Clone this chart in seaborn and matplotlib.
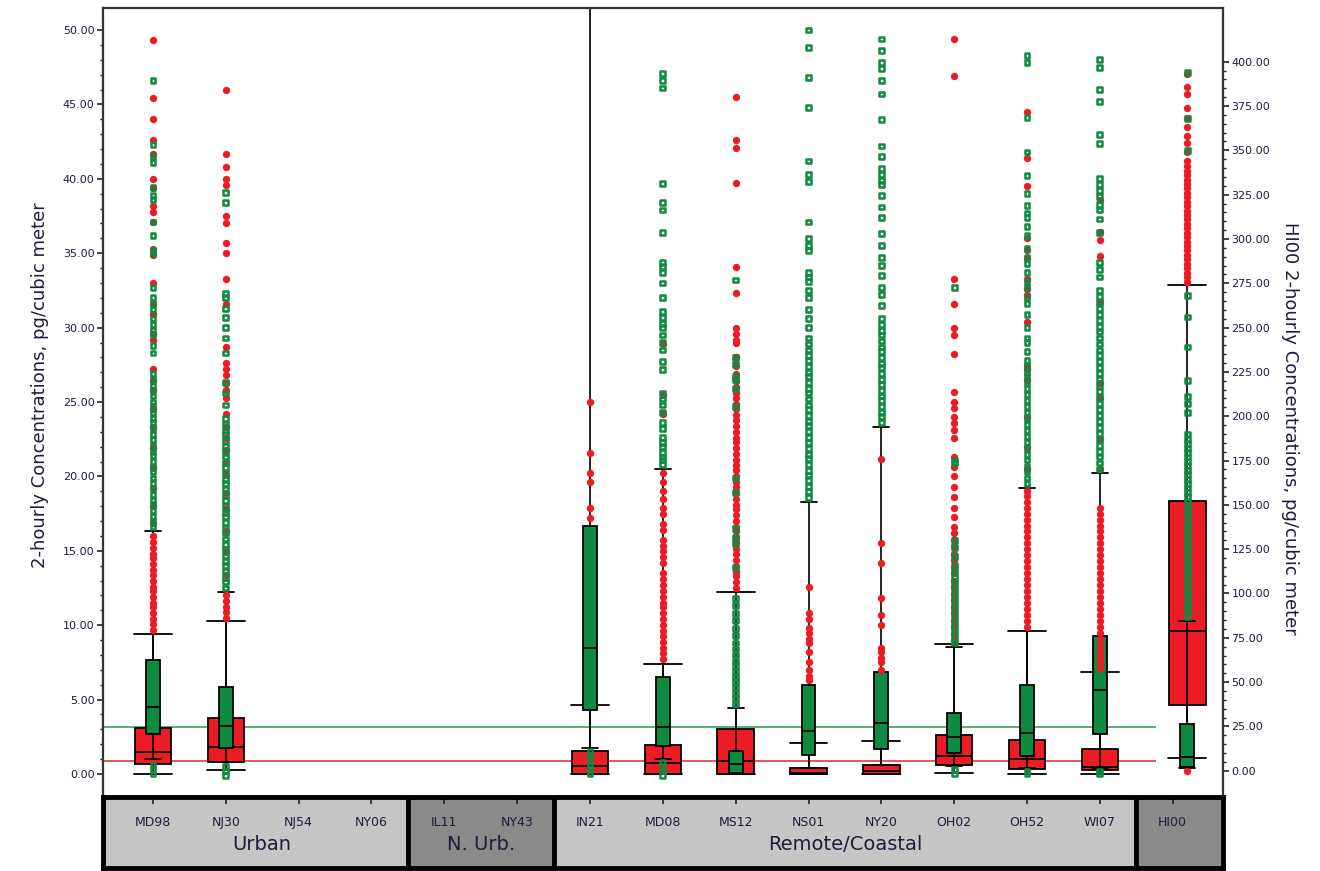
import numpy as np
import pandas as pd
import matplotlib
matplotlib.use("Agg")
import matplotlib.pyplot as plt
import seaborn as sns
from matplotlib.ticker import FixedLocator, FormatStrFormatter
from matplotlib.patches import Rectangle

# ---------------- data ----------------
sites = ["MD98", "NJ30", "NJ54", "NY06", "IL11", "NY43", "IN21", "MD08",
         "MS12", "NS01", "NY20", "OH02", "OH52", "WI07", "HI00"]
group_names = ["Urban", "N. Urb.", "Remote/Coastal", ""]
group_members = [["MD98", "NJ30", "NJ54", "NY06"], ["IL11", "NY43"],
                 ["IN21", "MD08", "MS12", "NS01", "NY20", "OH02", "OH52", "WI07"],
                 ["HI00"]]
right_axis_sites = ["HI00"]

# red series box statistics (None = no data)
red_lo  = [0.0, 0.3, None, None, None, None, 0.0, 0.0, 0.0, 0.0, 0.0, 0.06, 0.0, 0.0, 7.2]
red_q1  = [0.67, 0.82, None, None, None, None, 0.0, 0.0, 0.0, 0.0, 0.0, 0.6, 0.31, 0.27, 36.8]
red_med = [1.48, 1.83, None, None, None, None, 0.54, 0.72, 0.87, 0.1, 0.2, 1.2, 0.98, 0.47, 78.9]
red_q3  = [3.08, 3.75, None, None, None, None, 1.55, 1.95, 3.0, 0.42, 0.6, 2.62, 2.28, 1.66, 152.3]
red_hi  = [9.4, 10.3, None, None, None, None, 4.64, 7.4, 12.2, 2.1, 2.2, 8.74, 9.62, 6.85, 273.8]

# green series box statistics
green_lo  = [1.0, 0.8, None, None, None, None, 1.75, 1.0, 0.0, 0.42, 0.6, 0.54, 0.42, 0.42, 1.7]
green_q1  = [2.69, 1.73, None, None, None, None, 4.3, 1.88, 0.05, 1.28, 1.68, 1.41, 1.2, 2.69, 2.3]
green_med = [4.5, 3.2, None, None, None, None, 8.45, 3.18, 0.65, 2.89, 3.4, 2.5, 2.77, 5.64, 8.0]
green_q3  = [7.66, 5.83, None, None, None, None, 16.7, 6.53, 1.56, 5.98, 6.85, 4.1, 5.98, 9.27, 26.5]
green_hi  = [16.3, 12.2, None, None, None, None, 52.0, 20.5, 4.43, 18.3, 23.3, 8.53, 19.2, 20.2, 84.2]

# reference lines
green_ref = 3.18
red_ref = 0.87

red_outliers = {
    "MD98": [9.7, 10.1, 10.4, 10.8, 11.2, 11.5, 11.9, 12.3, 12.6, 13.0, 13.4, 13.7, 14.1, 14.5,
             14.8, 15.2, 15.6, 16.0, 16.9, 18.0, 19.2, 20.6, 21.9, 23.3, 24.5, 25.8, 26.4, 27.2,
             29.2, 29.6, 30.9, 31.6, 33.0, 34.9, 35.3, 37.1, 37.8, 38.2, 39.4, 40.0, 41.7, 42.6,
             44.0, 45.4, 49.3],
    "NJ30": [10.5, 10.9, 11.2, 11.6, 12.0, 13.4, 14.9, 16.3, 17.8, 18.9, 20.1, 21.0, 21.8, 22.6,
             23.3, 24.2, 25.3, 25.8, 26.3, 26.8, 27.2, 27.6, 28.7, 31.6, 33.3, 35.0, 35.7, 37.0,
             37.5, 39.6, 40.0, 40.8, 41.7, 46.0],
    "IN21": [17.2, 17.9, 19.6, 20.2, 21.6, 25.0],
    "MD08": [7.7, 8.1, 8.5, 8.9, 9.3, 9.6, 10.0, 10.4, 10.8, 11.2, 11.5, 11.9, 12.3, 12.7, 13.1,
             13.5, 14.2, 14.6, 15.0, 15.3, 15.7, 16.4, 16.8, 17.5, 17.9, 18.5, 19.0, 19.6, 20.2,
             24.2, 25.5, 28.9],
    "MS12": [12.5, 12.9, 13.3, 13.6, 14.0, 14.4, 14.8, 15.1, 15.5, 15.9, 16.3, 16.6, 17.0, 17.4,
             17.8, 18.1, 18.5, 18.9, 19.3, 19.6, 20.0, 20.4, 20.8, 21.1, 21.5, 21.9, 22.3, 22.6,
             23.0, 23.4, 23.8, 24.1, 24.5, 24.9, 25.3, 25.6, 26.0, 26.4, 26.9, 27.4, 28.0, 29.0,
             29.2, 29.6, 30.0, 32.3, 34.1, 39.7, 42.1, 42.6, 45.5],
    "NS01": [6.3, 6.6, 7.0, 7.5, 8.2, 8.8, 9.1, 9.5, 9.8, 10.4, 10.8, 12.6],
    "NY20": [7.0, 7.5, 7.8, 8.2, 8.5, 10.0, 10.7, 11.8, 14.2, 15.5, 21.2],
    "OH02": [9.0, 9.4, 9.9, 10.3, 10.8, 11.2, 11.7, 12.1, 12.6, 13.0, 13.5, 13.9, 14.4, 14.8,
             15.3, 15.7, 16.2, 16.6, 17.3, 17.9, 18.6, 19.3, 20.0, 20.6, 21.3, 22.6, 23.1, 23.6,
             24.0, 24.6, 25.0, 25.7, 28.2, 29.5, 30.0, 31.6, 33.3, 46.9, 49.4],
    "OH52": [9.9, 10.3, 10.7, 11.1, 11.5, 11.9, 12.3, 12.7, 13.1, 13.5, 13.9, 14.3, 14.7, 15.1,
             15.5, 15.9, 16.3, 16.7, 17.1, 17.5, 17.9, 18.3, 18.7, 19.0, 20.5, 22.0, 24.0, 26.5,
             27.2, 27.4, 30.4, 32.2, 32.6, 33.3, 34.7, 35.2, 36.0, 39.5, 41.4, 44.5],
    "WI07": [7.1, 7.5, 7.9, 8.3, 8.7, 9.1, 9.5, 9.9, 10.3, 10.7, 11.1, 11.5, 11.9, 12.3, 12.7,
             13.1, 13.5, 13.9, 14.3, 14.7, 15.1, 15.5, 15.9, 16.3, 16.7, 17.1, 17.5, 17.9, 20.5,
             22.5, 25.3, 26.3, 31.7, 34.8, 35.9, 36.4, 38.6],
    "HI00": [0.0, 276, 278.5, 281, 283.5, 286, 288.5, 291, 293.5, 296, 298.5, 301, 303.5, 306,
             308.5, 311, 313.5, 316, 318.5, 321, 323.5, 326, 328.5, 331, 333.5, 336, 338.5, 341,
             344, 349, 354, 358, 363, 368, 374, 382, 386, 393],
}

green_outliers = {
    "MD98": [0.0, 0.3, 0.6, 16.6, 17.0, 17.3, 17.7, 18.1, 18.4, 18.8, 19.2, 19.5, 19.9, 20.3,
             20.6, 21.0, 21.4, 21.7, 22.1, 22.5, 22.8, 23.2, 23.6, 23.9, 24.3, 24.7, 25.0, 25.4,
             25.8, 26.1, 26.5, 26.9, 28.3, 28.8, 29.5, 29.8, 30.2, 30.6, 31.2, 31.6, 32.0, 32.7,
             35.0, 35.2, 36.2, 37.1, 38.6, 38.9, 39.4, 41.1, 41.5, 42.3, 46.6],
    "NJ30": [-0.1, 0.2, 0.5, 12.5, 12.9, 13.2, 13.6, 14.0, 14.3, 14.7, 15.1, 15.4, 15.8, 16.2,
             16.5, 16.9, 17.3, 17.6, 18.0, 18.4, 18.7, 19.1, 19.5, 19.8, 20.2, 20.6, 20.9, 21.3,
             21.7, 22.0, 22.4, 22.8, 23.1, 23.5, 23.9, 24.8, 25.6, 26.3, 28.3, 29.3, 30.0, 30.7,
             31.3, 32.0, 32.3, 38.4, 39.1],
    "IN21": [0.0, 0.3, 0.6, 0.9, 1.2, 1.5],
    "MD08": [-0.1, 0.2, 0.5, 0.8, 20.8, 21.1, 21.3, 21.6, 22.0, 22.3, 22.6, 23.2, 23.6, 24.3,
             24.8, 25.2, 25.6, 27.2, 27.7, 28.5, 29.0, 29.5, 30.0, 30.3, 30.7, 31.1, 32.0, 33.0,
             33.7, 34.1, 34.4, 36.4, 37.9, 38.4, 39.7, 46.1, 46.6, 47.1],
    "MS12": [4.7, 5.1, 5.4, 5.8, 6.2, 6.5, 6.9, 7.3, 7.6, 8.0, 8.4, 8.8, 9.3, 9.8, 10.3, 10.8,
             11.3, 11.8, 13.9, 15.5, 15.9, 16.5, 18.9, 19.9, 24.7, 25.9, 26.5, 26.7, 27.5, 28.0,
             33.2],
    "NS01": [18.6, 19.0, 19.3, 19.7, 20.1, 20.4, 20.8, 21.2, 21.5, 21.9, 22.3, 22.6, 23.0, 23.4,
             23.7, 24.1, 24.5, 24.8, 25.2, 25.6, 25.9, 26.3, 26.7, 27.0, 27.4, 27.8, 28.1, 28.5,
             28.9, 29.3, 30.0, 30.6, 31.2, 32.0, 32.5, 33.1, 33.4, 33.7, 35.2, 35.5, 36.0, 37.1,
             39.8, 40.3, 41.2, 44.8, 46.8, 48.8, 50.0],
    "NY20": [23.6, 24.0, 24.3, 24.7, 25.1, 25.4, 25.8, 26.2, 26.5, 26.9, 27.3, 27.6, 28.0, 28.4,
             28.7, 29.1, 29.5, 29.8, 30.2, 30.6, 31.5, 32.2, 32.7, 33.5, 34.2, 34.7, 35.5, 36.3,
             37.4, 38.1, 38.9, 39.6, 39.9, 40.3, 40.7, 41.5, 42.2, 44.0, 45.7, 46.6, 47.4, 47.8,
             48.6, 49.4],
    "OH02": [0.0, 0.3, 8.8, 9.2, 9.6, 10.0, 10.4, 10.8, 11.2, 11.6, 12.0, 12.4, 12.8, 13.2, 13.6,
             14.0, 14.6, 15.2, 15.7, 20.9, 21.1, 32.7],
    "OH52": [0.0, 0.2, 19.5, 19.9, 20.3, 20.7, 21.1, 21.5, 21.9, 22.3, 22.7, 23.1, 23.5, 23.9,
             24.3, 24.7, 25.1, 25.5, 25.9, 26.3, 26.7, 27.0, 27.4, 27.8, 28.4, 29.0, 29.3, 30.0,
             30.9, 31.6, 32.0, 32.7, 33.1, 33.7, 34.3, 34.7, 35.3, 36.2, 36.8, 37.4, 37.7, 38.2,
             39.0, 40.2, 41.8, 44.1, 47.8, 48.3],
    "WI07": [0.0, 0.2, 20.5, 20.9, 21.3, 21.7, 22.1, 22.5, 22.9, 23.3, 23.7, 24.1, 24.5, 24.9,
             25.3, 25.7, 26.1, 26.5, 26.9, 27.3, 27.7, 28.1, 28.5, 28.9, 29.3, 29.7, 30.1, 30.5,
             30.9, 31.3, 31.7, 32.1, 32.5, 33.4, 33.9, 34.4, 36.4, 37.3, 37.9, 38.3, 38.8, 39.2,
             39.6, 40.0, 42.4, 43.0, 45.2, 46.0, 47.5, 48.0],
    "HI00": [87, 89.5, 92, 94.5, 97, 99.5, 102, 104.5, 107, 109.5, 112, 114.5, 117, 119.5, 122,
             124.5, 127, 129.5, 132, 134.5, 137, 139.5, 142, 144.5, 147, 149.5, 152, 154.5, 157,
             159.5, 162, 164.5, 167, 169.5, 172, 174.5, 177, 179.5, 182, 184.5, 187, 190, 202,
             207, 211, 220, 239, 256, 268, 350, 368, 394],
}

left_ticks = [0, 5, 10, 15, 20, 25, 30, 35, 40, 45, 50]
right_ticks = [0, 25, 50, 75, 100, 125, 150, 175, 200, 225, 250, 275, 300, 325, 350, 375, 400]

# ---------------- style ----------------
RED = "#ed1c24"
GREEN = "#0f8a41"
REF_GREEN = "#37a35c"
REF_RED = "#e8363c"
LIGHT = "#c6c6c6"
DARK = "#8a8a8a"
TXT = "#1c1c3c"
RIGHT_SHIFT = 0.2   # right-axis boxes sit slightly right of their tick

sns.set_theme(style="ticks")
plt.rcParams["font.family"] = ["DejaVu Sans"]

W, H = 1320, 871
fig = plt.figure(figsize=(W / 100, H / 100), dpi=100)
ax_l, ax_r, ax_t, ax_b = 103, 1223, 8, 795
ax = fig.add_axes([ax_l / W, 1 - ax_b / H, (ax_r - ax_l) / W, (ax_b - ax_t) / H])
ax2 = ax.twinx()
ax.set_facecolor("white")

pos = {s: i for i, s in enumerate(sites)}
xlim = (-0.686, 14.69)


def xpos(s):
    return pos[s] + (RIGHT_SHIFT if s in right_axis_sites else 0.0)


def draw_box(target, x, lo, q1, med, q3, hi, width, capw, color, z):
    st = [dict(whislo=lo, q1=q1, med=med, q3=q3, whishi=hi, fliers=[])]
    target.bxp(st, positions=[x], widths=[width], capwidths=[capw],
               patch_artist=True, showfliers=False, manage_ticks=False,
               boxprops=dict(facecolor=color, edgecolor="black", linewidth=1.3),
               medianprops=dict(color="black", linewidth=1.3),
               whiskerprops=dict(color="black", linewidth=1.2),
               capprops=dict(color="black", linewidth=1.3), zorder=z)


for i, s in enumerate(sites):
    if red_q1[i] is None:
        continue
    tgt = ax2 if s in right_axis_sites else ax
    draw_box(tgt, xpos(s), red_lo[i], red_q1[i], red_med[i], red_q3[i], red_hi[i],
             0.5, 0.52, RED, 2)
    draw_box(tgt, xpos(s), green_lo[i], green_q1[i], green_med[i], green_q3[i], green_hi[i],
             0.19, 0.22, GREEN, 2.5)


def outlier_frame(d, right):
    rows = []
    for s, vals in d.items():
        if (s in right_axis_sites) == right:
            rows += [(xpos(s), v) for v in vals]
    return pd.DataFrame(rows, columns=["pos", "value"])


for tgt, right in [(ax, False), (ax2, True)]:
    dr = outlier_frame(red_outliers, right)
    sns.scatterplot(data=dr, x="pos", y="value", ax=tgt, color=RED, s=28,
                    linewidth=0, zorder=3, legend=False)
    dg = outlier_frame(green_outliers, right)
    sns.scatterplot(data=dg, x="pos", y="value", ax=tgt, marker="s", s=12,
                    color=GREEN, linewidth=1.8, zorder=3.5, legend=False)
    coll = tgt.collections[-1]
    coll.set_facecolor("none")
    coll.set_edgecolor(GREEN)

# reference lines (stop before HI00)
ax.hlines([green_ref], xlim[0], 13.77, color=REF_GREEN, linewidth=1.2, zorder=1)
ax.hlines([red_ref], xlim[0], 13.77, color=REF_RED, linewidth=1.2, zorder=1)

# axes limits and ticks
for a in (ax, ax2):
    a.set_xlim(*xlim)
    a.set_xticks([])
    a.set_xlabel("")
    a.set_ylabel("")
ax.set_ylim(-1.41, 51.48)
ax2.set_ylim(-13.7, 430.3)

ax.yaxis.set_major_locator(FixedLocator(left_ticks))
ax.yaxis.set_minor_locator(FixedLocator([v for v in range(0, 51) if v % 5]))
ax.yaxis.set_major_formatter(FormatStrFormatter("%.2f"))
ax2.yaxis.set_major_locator(FixedLocator(right_ticks))
ax2.yaxis.set_minor_locator(FixedLocator([v for v in range(0, 405, 5) if v % 25]))
ax2.yaxis.set_major_formatter(FormatStrFormatter("%.2f"))
for a in (ax, ax2):
    a.tick_params(axis="y", which="major", direction="out", length=4, width=1.2,
                  labelsize=8, labelcolor=TXT, color="#222222", pad=2)
    a.tick_params(axis="y", which="minor", direction="out", length=2.5, width=1.0,
                  color="#222222")
ax.grid(False)
ax2.grid(False)

for a in (ax, ax2):
    a.spines["bottom"].set_visible(False)
ax.spines["right"].set_visible(False)
ax2.spines["left"].set_visible(False)
ax2.spines["top"].set_visible(False)
ax.spines["top"].set_visible(True)
for sp in ("left", "top"):
    ax.spines[sp].set_linewidth(1.6)
    ax.spines[sp].set_color("#333333")
ax2.spines["right"].set_linewidth(1.6)
ax2.spines["right"].set_color("#333333")

# axis titles
fig.text(40 / W, 1 - 385 / H, "2-hourly Concentrations, pg/cubic meter", rotation=90,
         ha="center", va="center", fontsize=13, color=TXT)
fig.text(1290 / W, 1 - 428 / H, "HI00 2-hourly Concentrations, pg/cubic meter", rotation=270,
         ha="center", va="center", fontsize=13, color=TXT)

# ---------------- category band ----------------
band_top, band_bot = 797, 868
band = fig.add_axes([ax_l / W, 1 - band_bot / H, (ax_r - ax_l) / W, (band_bot - band_top) / H])
band.set_xlim(*xlim)
band.set_ylim(0, 1)
ng = len(group_names)
for gi, (gname, members) in enumerate(zip(group_names, group_members)):
    lo_x = xlim[0] if gi == 0 else pos[members[0]] - 0.5
    hi_x = xlim[1] if gi == ng - 1 else pos[members[-1]] + 0.5
    col = LIGHT if gi % 2 == 0 else DARK
    band.add_patch(Rectangle((lo_x, 0), hi_x - lo_x, 1, facecolor=col, edgecolor="none", zorder=0))
    if gname:
        band.text((pos[members[0]] + pos[members[-1]]) / 2, 0.33, gname, ha="center",
                  va="center", fontsize=14, color=TXT)
    if gi < ng - 1:
        band.axvline(hi_x, color="black", linewidth=3.5, zorder=2)
for s in sites:
    band.text(pos[s], 0.64, s, ha="center", va="center", fontsize=9, color=TXT)
band.set_xticks(range(len(sites)))
band.set_xticklabels([])
band.set_yticks([])
band.xaxis.tick_top()
band.tick_params(axis="x", direction="in", length=5, width=1.2, color="#222222",
                 top=True, bottom=False, labeltop=False)
for sp in band.spines.values():
    sp.set_linewidth(3.5)
    sp.set_color("black")

fig.savefig("out.png", dpi=100, facecolor="white")
